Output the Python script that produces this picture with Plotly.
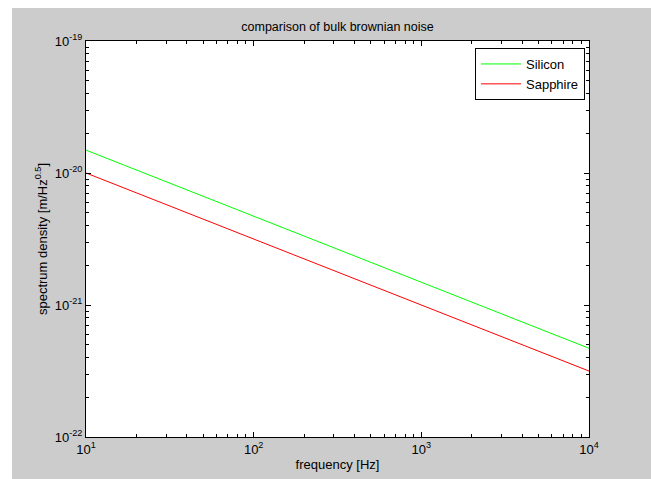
import plotly.graph_objects as go

freq = [10, 100, 1000, 10000]
silicon = [1.49e-20, 4.7e-21, 1.49e-21, 4.7e-22]
sapphire = [1.0e-20, 3.16e-21, 1.0e-21, 3.16e-22]

xtick_vals = [10, 100, 1000, 10000]
xtick_text = ["10<sup>1</sup>", "10<sup>2</sup>", "10<sup>3</sup>", "10<sup>4</sup>"]
ytick_vals = [1e-22, 1e-21, 1e-20, 1e-19]
ytick_text = ["10<sup>-22</sup>", "10<sup>-21</sup>", "10<sup>-20</sup>", "10<sup>-19</sup>"]

x_minor = [m * d for d in xtick_vals[:-1] for m in range(2, 10)]
y_minor = [m * d for d in ytick_vals[:-1] for m in range(2, 10)]

W, H = 651, 479
L, R, T, B = 86, 62, 41, 42
pw, ph = W - L - R, H - T - B

fig = go.Figure()
fig.add_trace(go.Scatter(x=freq, y=silicon, mode="lines", name="Silicon",
                         line=dict(color="#00ff00", width=1)))
fig.add_trace(go.Scatter(x=freq, y=sapphire, mode="lines", name="Sapphire",
                         line=dict(color="#ff0000", width=1)))

font = "Liberation Sans, Arial, sans-serif"


def axis_common(minor_vals):
    return dict(showline=True, linecolor="black", linewidth=1, mirror="allticks",
                ticks="inside", ticklen=5, tickcolor="black", showgrid=False,
                zeroline=False, automargin=False,
                tickfont=dict(family=font, size=13, color="black"),
                minor=dict(tickvals=minor_vals, ticks="inside", ticklen=3,
                           tickcolor="black", showgrid=False))


fig.update_xaxes(type="log", range=[1, 4], tickvals=xtick_vals, ticktext=xtick_text,
                 title=dict(text="frequency [Hz]", font=dict(family=font, size=13, color="black"), standoff=4),
                 **axis_common(x_minor))
fig.update_yaxes(type="log", range=[-22, -19], tickvals=ytick_vals, ticktext=ytick_text,
                 title=dict(text="spectrum density [m/Hz<sup>0.5</sup>]", font=dict(family=font, size=13, color="black"), standoff=4),
                 **axis_common(y_minor))

# white border strips (top and left) around gray figure background
fig.add_shape(type="rect", xref="paper", yref="paper",
              x0=-L / pw - 0.01, x1=(W - L) / pw + 0.01, y0=1 + (T - 8) / ph, y1=1 + T / ph + 0.01,
              fillcolor="white", line=dict(width=0), layer="below")
fig.add_shape(type="rect", xref="paper", yref="paper",
              x0=-L / pw - 0.01, x1=(12 - L) / pw, y0=-B / ph - 0.01, y1=1 + T / ph + 0.01,
              fillcolor="white", line=dict(width=0), layer="below")

fig.update_layout(
    template="none",
    width=W, height=H,
    margin=dict(l=L, r=R, t=T, b=B, pad=0),
    paper_bgcolor="#cccccc", plot_bgcolor="white",
    font=dict(family=font, size=12, color="black"),
    title=dict(text="comparison of bulk brownian noise", x=(L + pw / 2) / W, xanchor="center",
               y=1 - 27 / H, yanchor="middle", font=dict(family=font, size=12.5, color="black")),
    legend=dict(x=(585 - L) / pw, y=1 - (48 - T) / ph, xanchor="right", yanchor="top", bgcolor="white",
                bordercolor="black", borderwidth=1, font=dict(family=font, size=13, color="black"),
                tracegroupgap=0, itemwidth=40),
    showlegend=True,
)

fig.write_html("out.html", config={"displayModeBar": False},
               post_script="document.body.style.margin='0';document.body.style.overflow='hidden';")
